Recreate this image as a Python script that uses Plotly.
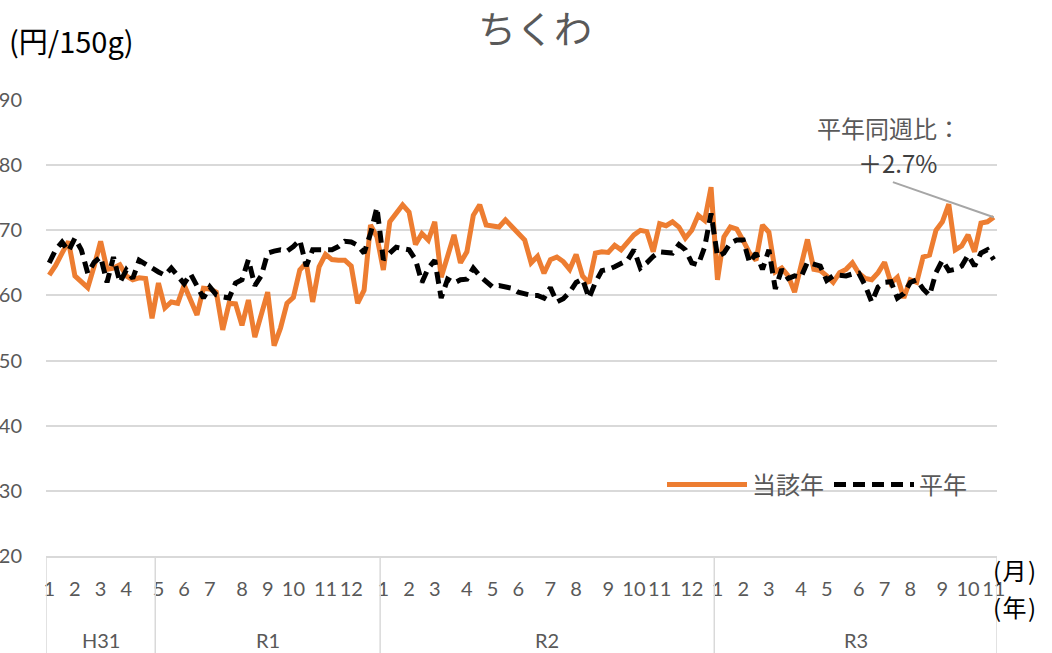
import plotly.graph_objects as go

# ---- data ----
weeks_per_month_2019 = [4, 4, 4, 5, 4, 4, 5, 4, 4, 5, 4, 5]
weeks_per_month_2020 = [4, 4, 5, 4, 4, 5, 4, 5, 4, 4, 5, 4]
weeks_per_month_2021 = [4, 4, 5, 4, 5, 4, 4, 5, 4, 4, 1]

current_year = [
    63.1, 64.6, 66.5, 68.3, 63.0, 62.0, 61.2, 64.5, 68.3, 64.0,
    64.2, 64.7, 63.0, 62.4, 62.7, 62.6, 56.5, 61.9, 58.1, 59.0,
    58.8, 61.6, 59.5, 57.0, 61.1, 61.0, 60.5, 54.7, 58.8, 58.7,
    55.4, 59.3, 53.6, 57.0, 60.5, 52.3, 55.0, 58.8, 59.7, 63.9,
    65.0, 59.0, 64.4, 66.3, 65.5, 65.4, 65.4, 64.5, 58.8, 60.8,
    70.8, 69.0, 63.9, 71.3, 72.5, 73.9, 72.8, 67.8, 69.5, 68.5,
    71.3, 62.8, 66.0, 69.3, 65.0, 66.7, 72.3, 73.9, 70.8, 70.6,
    70.5, 71.6, 70.6, 69.6, 68.5, 65.0, 66.0, 63.4, 65.5, 65.9,
    65.2, 64.0, 66.3, 63.0, 61.9, 66.5, 66.7, 66.6, 67.7, 67.0,
    68.2, 69.3, 70.0, 69.8, 66.7, 71.0, 70.7, 71.3, 70.5, 68.8,
    70.0, 72.3, 71.5, 76.6, 62.4, 69.0, 70.5, 70.2, 68.4, 66.5,
    65.4, 70.8, 69.7, 63.6, 64.2, 63.0, 60.5, 65.0, 68.6, 64.0,
    63.8, 63.0, 62.0, 63.5, 64.0, 65.0, 63.4, 62.6, 62.4, 63.5,
    65.1, 61.9, 62.8, 59.6, 62.4, 62.0, 65.9, 66.2, 70.0, 71.3,
    74.0, 67.0, 67.6, 69.3, 66.7, 71.1, 71.3, 72.0,
]

normal_year = [
    65.0, 67.0, 68.2, 66.8, 68.8, 67.0, 63.4, 65.1, 65.9, 62.0,
    65.9, 62.0, 63.9, 62.6, 65.4, 64.8, 64.0, 63.6, 63.1, 64.2,
    63.0, 61.8, 63.3, 61.3, 59.6, 61.3, 60.1, 59.8, 59.6, 61.9,
    62.4, 65.5, 61.5, 63.0, 66.5, 66.8, 67.0, 66.8, 67.5, 68.5,
    64.5, 67.0, 67.0, 67.0, 67.0, 67.5, 68.3, 68.2, 67.7, 66.5,
    69.5, 73.5, 65.5, 66.5, 67.4, 67.2, 67.0, 65.5, 62.0, 64.2,
    65.4, 59.6, 62.5, 61.9, 62.4, 62.5, 64.2, 63.0, 62.2, 61.3,
    61.5, 61.3, 61.1, 60.5, 60.3, 60.0, 60.0, 59.6, 61.2, 59.0,
    59.5, 60.5, 62.0, 62.5, 59.6, 62.0, 63.8, 64.0, 64.4, 64.8,
    65.4, 67.0, 64.2, 65.0, 66.0, 66.7, 66.6, 66.5, 67.8, 67.0,
    65.0, 64.7, 67.4, 72.6, 66.0, 66.5, 68.0, 68.5, 68.5, 65.0,
    66.5, 64.0, 67.0, 61.0, 64.0, 62.6, 63.0, 62.8, 65.1, 64.8,
    64.5, 62.3, 63.0, 63.1, 63.0, 63.3, 63.4, 61.5, 59.0, 61.3,
    62.0, 62.1, 59.6, 60.3, 62.0, 62.4, 61.0, 60.0, 63.5, 65.4,
    63.8, 64.0, 64.5, 66.2, 64.5, 66.5, 67.0, 65.5,
]

year_groups = ["H31", "R1", "R2", "R3"]
series_names = ["当該年", "平年"]
title_text = "ちくわ"
unit_text = "(円/150g)"
month_unit = "(\u200a月\u200a)"
year_unit = "(\u200a年\u200a)"
ratio_label = "平年同週比："
ratio_value = "＋2.7%"

# ---- derived categories ----
week_month = []
week_group = []
for m, n in enumerate(weeks_per_month_2019, start=1):
    week_month += [m] * n
    week_group += ["H31" if m <= 4 else "R1"] * n
for m, n in enumerate(weeks_per_month_2020, start=1):
    week_month += [m] * n
    week_group += ["R2"] * n
for m, n in enumerate(weeks_per_month_2021, start=1):
    week_month += [m] * n
    week_group += ["R3"] * n

x = list(range(len(current_year)))
tickvals, ticktext = [], []
for i, m in enumerate(week_month):
    if i == 0 or week_month[i - 1] != m:
        tickvals.append(i)
        ticktext.append(str(m))

JP = "Noto Sans CJK JP"
NUM = "Lato, Noto Sans CJK JP"
GRAY = "#595959"
GRID = "#D9D9D9"

# plot area in pixels: left 46, right 997, top 100, bottom 556
PL, PR, PT, PB = 46, 997, 100, 556


def px_x(p):
    return (p - PL) / (PR - PL)


def px_y(p):
    return (PB - p) / (PB - PT)


fig = go.Figure()
fig.add_trace(go.Scatter(x=x, y=current_year, mode="lines", name=series_names[0],
                         line=dict(color="#ED7D31", width=5)))
fig.add_trace(go.Scatter(x=x, y=normal_year, mode="lines", name=series_names[1],
                         line=dict(color="#000000", width=5, dash="12px,7px")))

n = len(x)
fig.update_layout(
    width=1052, height=653,
    margin=dict(l=PL, r=1052 - PR, t=PT, b=653 - PB),
    paper_bgcolor="white", plot_bgcolor="white",
    font=dict(family=NUM, color=GRAY, size=20),
    showlegend=True,
    legend=dict(orientation="h", x=px_x(662), y=px_y(485), xanchor="left", yanchor="middle",
                font=dict(family=JP, size=24, color=GRAY), itemwidth=80,
                bgcolor="rgba(0,0,0,0)"),
    xaxis=dict(range=[-0.5, n - 0.5], tickmode="array", tickvals=tickvals, ticktext=ticktext,
               showgrid=False, zeroline=False, showline=True, linecolor=GRID, linewidth=1.5,
               ticks="", tickangle=0, ticklabelstandoff=14,
               tickfont=dict(family=NUM, size=20, color=GRAY), automargin=False),
    yaxis=dict(range=[20, 90], dtick=10, tick0=20, showgrid=True, gridcolor=GRID, gridwidth=1.5,
               zeroline=False, showline=False, ticks="", ticklabelstandoff=23,
               tickfont=dict(family=NUM, size=20, color=GRAY), automargin=False),
)

# group separators and labels
bounds = [0]
for i in range(1, n):
    if week_group[i] != week_group[i - 1]:
        bounds.append(i)
bounds.append(n)
for b in bounds:
    fig.add_shape(type="line", xref="x", yref="paper", x0=b - 0.5, x1=b - 0.5, y0=0, y1=-0.3,
                  line=dict(color=GRID, width=1.5))
for gi, g in enumerate(year_groups):
    mid = (bounds[gi] + bounds[gi + 1] - 1) / 2
    fig.add_annotation(x=mid, xref="x", y=px_y(640), yref="paper", text=g, showarrow=False,
                       font=dict(family=NUM, size=20, color=GRAY), yanchor="middle")

# leader line for ratio annotation
fig.add_shape(type="line", xref="x", yref="y", x0=131.3, y0=77.4, x1=n - 1, y1=current_year[-1],
              line=dict(color="#A6A6A6", width=2))
fig.add_annotation(x=px_x(889), xref="paper", y=px_y(128), yref="paper", xanchor="center",
                   yanchor="middle", text=ratio_label, showarrow=False,
                   font=dict(family=JP, size=24, color=GRAY))
fig.add_annotation(x=px_x(897), xref="paper", y=px_y(162), yref="paper", xanchor="center",
                   yanchor="middle", text=ratio_value, showarrow=False,
                   font=dict(family=JP, size=24, color="#404040"))

# title and unit labels
fig.add_annotation(x=px_x(535), y=px_y(27), xref="paper", yref="paper", text=title_text,
                   showarrow=False, xanchor="center", yanchor="middle",
                   font=dict(family=JP, size=38, color=GRAY))
fig.add_annotation(x=px_x(7), y=px_y(40), xref="paper", yref="paper",
                   text=unit_text, showarrow=False, xanchor="left", yanchor="middle",
                   font=dict(family=JP, size=29, color="#000000"))
fig.add_annotation(x=px_x(992), y=px_y(569), xref="paper", yref="paper",
                   text=month_unit, showarrow=False, xanchor="left", yanchor="middle",
                   font=dict(family=JP, size=24, color="#000000"), borderpad=0)
fig.add_annotation(x=px_x(992), y=px_y(606), xref="paper", yref="paper",
                   text=year_unit, showarrow=False, xanchor="left", yanchor="middle",
                   font=dict(family=JP, size=24, color="#000000"), borderpad=0)

fig.write_html("out.html", config={"displayModeBar": False},
               post_script="document.body.style.margin='0';document.body.style.overflow='hidden';")
